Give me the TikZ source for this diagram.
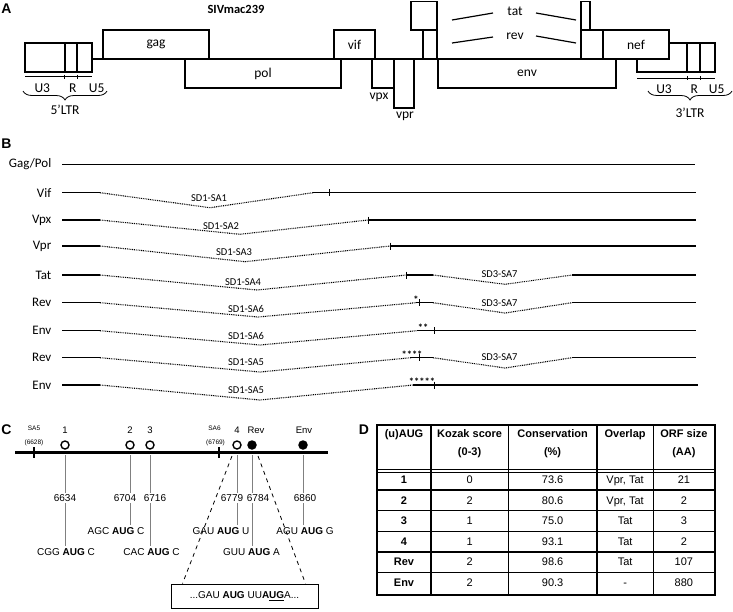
\documentclass[tikz,border=0pt]{standalone}
\usepackage{fontspec}
\setmainfont{Carlito}
\newfontfamily\arial{Liberation Sans}
\usetikzlibrary{decorations.pathreplacing}
\begin{document}
\begin{tikzpicture}[x=1pt,y=-1pt,
  box/.style={draw, line width=1.2pt, inner sep=0pt, font=\fontsize{13.5}{15}\selectfont},
  lab/.style={font=\fontsize{13.5}{15}\selectfont, inner sep=0pt},
  letter/.style={font=\arial\bfseries\fontsize{14}{16}\selectfont, inner sep=0pt},
  rowlab/.style={anchor=east, font=\fontsize{13}{15}\selectfont, inner sep=0pt},
  splab/.style={font=\fontsize{10.5}{12}\selectfont, inner sep=0pt},
  exon/.style={line width=1.4pt},
  intron/.style={dash pattern=on 0.9pt off 0.9pt, line width=1.1pt},
  tk/.style={line width=0.6pt},
  starl/.style={font=\bfseries\fontsize{10.5}{11}\selectfont, inner sep=0pt},
  brc/.style={decorate, decoration={brace, mirror, amplitude=9pt}, line width=0.8pt},
  clab/.style={font=\arial\fontsize{10}{12}\selectfont, inner sep=1.5pt},
  numl/.style={font=\arial\fontsize{9.5}{11}\selectfont, inner sep=0pt},
  tiny/.style={font=\arial\fontsize{6.5}{8}\selectfont, inner sep=0pt},
  ocirc/.style={circle, draw, line width=1.4pt, minimum size=8pt, inner sep=0pt},
  fcirc/.style={ocirc, fill=black},
  gline/.style={draw=black!50, line width=0.8pt},
  dashl/.style={dash pattern=on 4pt off 4pt, line width=0.8pt},
  th/.style={font=\arial\bfseries\fontsize{11}{13}\selectfont, anchor=base, inner sep=0pt},
  td/.style={font=\arial\fontsize{11}{13}\selectfont, anchor=base, inner sep=0pt},
  tdb/.style={font=\arial\bfseries\fontsize{11}{13}\selectfont, anchor=base, inner sep=0pt},
  tline/.style={line width=1.3pt}
]
\useasboundingbox (0,0) rectangle (733,611);

% ================= Panel A =================
\node[letter] (LA) at (6.5,8.5) {A};
\node[font=\bfseries\fontsize{12.5}{14}\selectfont, inner sep=0pt] (title) at (236,9) {SIVmac239};

\draw[line width=1.2pt] (92,59) -- (637,59);
\node[box, minimum width=67pt, minimum height=29pt] (ltr5) at (58.5,57.5) {};
\draw[line width=1.2pt] (65,43) -- (65,72) (77,43) -- (77,72);

\node[box, minimum width=106pt, minimum height=29pt] (gag) at (156,44.5) {gag};
\node[box, minimum width=156pt, minimum height=29pt] (pol) at (263,73.5) {pol};
\node[box, minimum width=41pt, minimum height=29pt] (vif) at (354.5,44.5) {vif};
\node[box, minimum width=22pt, minimum height=29pt] (vpx) at (383,73.5) {};
\node[box, minimum width=20pt, minimum height=49pt] (vpr) at (404,83.5) {};
\node[lab] (vpxl) at (379,97.7) {vpx};
\node[lab] (vprl) at (405,116) {vpr};
\node[box, minimum width=26pt, minimum height=28.5pt] (tat1) at (424,15.75) {};
\node[box, minimum width=14pt, minimum height=29pt] (rev1) at (430,44.5) {};
\node[box, minimum width=178pt, minimum height=29pt] (env) at (527,73.5) {env};
\node[box, minimum width=9pt, minimum height=28.5pt] (tat2) at (585.5,15.75) {};
\node[box, minimum width=22pt, minimum height=29pt] (rev2) at (592,44.5) {};
\node[box, minimum width=66pt, minimum height=29pt] (nef) at (636,44.5) {nef};

\draw[line width=1.2pt] (637,59) -- (637,72) -- (715,72) -- (715,43) -- (669,43);
\draw[line width=1.2pt] (687,43) -- (687,72) (700,43) -- (700,72);

\node[lab] (tatl) at (515,11) {tat};
\node[lab] (revl) at (515,36) {rev};
\draw[line width=1.2pt] (452,20) -- (493,13) (536,13) -- (576,20);
\draw[line width=1.2pt] (452,43) -- (493,37) (536,36) -- (576,43);

% LTR annotations
\draw[tk] (25,76.5) -- (92,76.5) (64,74.5) -- (64,78.5) (77,74.5) -- (77,78.5);
\node[lab] (u35) at (42.3,88.3) {U3};
\node[lab] (r5) at (72.7,88.3) {R};
\node[lab] (u55) at (96.7,88.3) {U5};
\draw[brc] (23,91) -- (107,91);
\node[lab] (ltr5l) at (65,110) {5’LTR};

\draw[tk] (637,78) -- (715,78) (687,76) -- (687,80) (700,76) -- (700,80);
\node[lab] (u33) at (664,89.3) {U3};
\node[lab] (r3) at (694.3,89.3) {R};
\node[lab] (u53) at (716.7,89.3) {U5};
\draw[brc] (648,91) -- (732,91);
\node[lab] (ltr3l) at (690,112.7) {3’LTR};

% ================= Panel B =================
\node[letter] (LB) at (6.5,144) {B};

\node[rowlab] (rgag) at (51.5,164.5) {Gag/Pol};
\draw[exon] (62,164.5) -- (695,164.5);

\node[rowlab] (rvif) at (51.5,192.7) {Vif};
\draw[exon] (62,192.7) -- (100,192.7);
\draw[intron] (100,192.7) -- (210,207.7) -- (313,192.7);
\draw[exon] (313,192.7) -- (696,192.7);
\draw[tk] (329,189.2) -- (329,196.2);
\node[splab] at (209,198.3) {SD1-SA1};

\node[rowlab] (rvpx) at (51.5,220) {Vpx};
\draw[exon] (62,220) -- (100,220);
\draw[intron] (100,220) -- (240,234.3) -- (368,220);
\draw[exon] (368,220) -- (696,220);
\draw[tk] (368,216.5) -- (368,223.5);
\node[splab] at (221,226) {SD1-SA2};

\node[rowlab] (rvpr) at (51.5,246) {Vpr};
\draw[exon] (62,246) -- (100,246);
\draw[intron] (100,246) -- (245,261.7) -- (390,246);
\draw[exon] (390,246) -- (696,246);
\draw[tk] (390,242.5) -- (390,249.5);
\node[splab] at (234,252) {SD1-SA3};

\node[rowlab] (rtat) at (51.5,275) {Tat};
\draw[exon] (62,275) -- (100,275);
\draw[intron] (100,275) -- (257,290) -- (406.5,275);
\draw[exon] (406.5,275) -- (433,275);
\draw[intron] (433,275) -- (505,284.3) -- (572,275);
\draw[exon] (572,275) -- (696,275);
\draw[tk] (406.5,271.5) -- (406.5,278.5);
\node[splab] at (243,282) {SD1-SA4};
\node[splab] at (499.5,274) {SD3-SA7};

\node[rowlab] (rrev1) at (51.5,302.7) {Rev};
\draw[exon] (62,302.7) -- (100,302.7);
\draw[intron] (100,302.7) -- (258,317) -- (416,302.7);
\draw[exon] (416,302.7) -- (433,302.7);
\draw[intron] (433,302.7) -- (505,313) -- (572,302.7);
\draw[exon] (572,302.7) -- (696,302.7);
\draw[tk] (419,299.2) -- (419,306.2);
\node[starl] at (416,300) {*};
\node[splab] at (246,309) {SD1-SA6};
\node[splab] at (499.5,302.7) {SD3-SA7};

\node[rowlab] (renv1) at (51.5,330.7) {Env};
\draw[exon] (62,330.7) -- (100,330.7);
\draw[intron] (100,330.7) -- (260,345) -- (417,330.7);
\draw[exon] (417,330.7) -- (696,330.7);
\draw[tk] (434,327.2) -- (434,334.2);
\node[starl] at (423,328) {**};
\node[splab] at (246,336) {SD1-SA6};

\node[rowlab] (rrev2) at (51.5,357.7) {Rev};
\draw[exon] (62,357.7) -- (100,357.7);
\draw[intron] (100,357.7) -- (260,372) -- (411,357.7);
\draw[exon] (411,357.7) -- (433,357.7);
\draw[intron] (433,357.7) -- (505,368) -- (572,357.7);
\draw[exon] (572,357.7) -- (696,357.7);
\draw[tk] (419,354.2) -- (419,361.2);
\node[starl] at (412,355) {****};
\node[splab] at (246,361.7) {SD1-SA5};
\node[splab] at (499.5,356.7) {SD3-SA7};

\node[rowlab] (renv2) at (51.5,385) {Env};
\draw[exon] (62,385) -- (100,385);
\draw[intron] (100,385) -- (260,400) -- (413,385);
\draw[exon] (413,385) -- (698,385);
\draw[tk] (434,381.5) -- (434,388.5);
\node[starl] at (422,382) {*****};
\node[splab] at (246,390) {SD1-SA5};

% ================= Panel C =================
\node[letter] (LC) at (6.5,430) {C};
\draw[line width=2.5pt] (15,452.7) -- (328,452.7);
\coordinate (ml) at (0,455);
\draw[line width=1.2pt] (34,447) -- (34,458) (219,447) -- (219,458);
\node[tiny] (sa5) at (34,428) {SA5};
\node[tiny] (sa5p) at (34,443) {(6628)};
\node[tiny] (sa6) at (214.5,428) {SA6};
\node[tiny] (sa6p) at (215.5,443) {(6769)};

\node[ocirc] (u1) at (65,445) {};
\node[ocirc] (u2) at (130,445) {};
\node[ocirc] (u3) at (150,445) {};
\node[ocirc] (u4) at (237,445) {};
\node[fcirc] (uR) at (252,445) {};
\node[fcirc] (uE) at (303,445) {};
\node[numl] (n1) at (65,430) {1};
\node[numl] (n2) at (130,430) {2};
\node[numl] (n3) at (150,430) {3};
\node[numl] (n4) at (237,430) {4};
\node[numl] (nR) at (256,430) {Rev};
\node[numl] (nE) at (304,430) {Env};

\node[clab] (p1) at (65,498) {6634};
\node[clab] (p2) at (125,498) {6704};
\node[clab] (p3) at (155,498) {6716};
\node[clab] (p4) at (232,498) {6779};
\node[clab] (pR) at (258,498) {6784};
\node[clab] (pE) at (305,498) {6860};

\node[clab] (s1) at (66,551.7) {CGG \textbf{AUG} C};
\node[clab] (s2) at (116,530.7) {AGC \textbf{AUG} C};
\node[clab] (s3) at (151.5,551.7) {CAC \textbf{AUG} C};
\node[clab] (s4) at (221,530.7) {GAU \textbf{AUG} U};
\node[clab] (sR) at (251.5,551.7) {GUU \textbf{AUG} A};
\node[clab] (sE) at (305,530.7) {AGU \textbf{AUG} G};

\foreach \u/\p/\s in {u1/p1/s1, u2/p2/s2, u3/p3/s3, u4/p4/s4, uR/pR/sR, uE/pE/sE}{
  \draw[gline] (\u |- ml) -- (\u |- \p.north);
  \draw[gline] (\u |- \p.south) -- (\u |- \s.north);
}

\node[draw, line width=1pt, minimum width=147pt, minimum height=24pt, inner sep=0pt,
      font=\arial\fontsize{10}{12}\selectfont] (zbox) at (244.5,596)
      {...GAU \textbf{AUG} UU\textbf{A\underline{UG}}A...};
\draw[dashl] (232,456) -- ([xshift=12pt]zbox.north west);
\draw[dashl] (258,456) -- ([xshift=-13pt]zbox.north east);

% ================= Panel D =================
\node[letter] (LD) at (364,430) {D};
\draw[line width=2pt] (377,424.7) rectangle (714.5,595);
\draw[line width=2.2pt] (431,424.7) -- (431,595);
\draw[tline] (508.3,424.7) -- (508.3,595) (597,424.7) -- (597,595) (653.3,424.7) -- (653.3,595);
\draw[line width=1.6pt] (377,469.5) -- (714.5,469.5);
\draw[tline] (377,472.5) -- (714.5,472.5);
\foreach \yy in {490,510.7,531.3,552,572.7}{
  \draw[tline] (377,\yy) -- (714.5,\yy);
}

\node[th] (h1) at (404,437) {(u)AUG};
\node[th] (h2a) at (469.6,437) {Kozak score};
\node[th] (h2b) at (469.6,455) {(0-3)};
\node[th] (h3a) at (552.6,437) {Conservation};
\node[th] (h3b) at (552.6,455) {(\%)};
\node[th] (h4) at (625.1,437) {Overlap};
\node[th] (h5a) at (683.9,437) {ORF size};
\node[th] (h5b) at (683.9,455) {(AA)};

\foreach \i/\yy/\a/\b/\c/\d/\e in {
  1/483.6/1/0/73.6/{Vpr, Tat}/21,
  2/504.2/2/2/80.6/{Vpr, Tat}/2,
  3/524.6/3/1/75.0/Tat/3,
  4/545.2/4/1/93.1/Tat/2,
  5/565.9/Rev/2/98.6/Tat/107,
  6/586.9/Env/2/90.3/-/880}{
  \node[tdb] (c1r\i) at (404,\yy) {\a};
  \node[td] (c2r\i) at (469.6,\yy) {\b};
  \node[td] (c3r\i) at (552.6,\yy) {\c};
  \node[td] (c4r\i) at (625.1,\yy) {\d};
  \node[td] (c5r\i) at (683.9,\yy) {\e};
}
\end{tikzpicture}
\end{document}
